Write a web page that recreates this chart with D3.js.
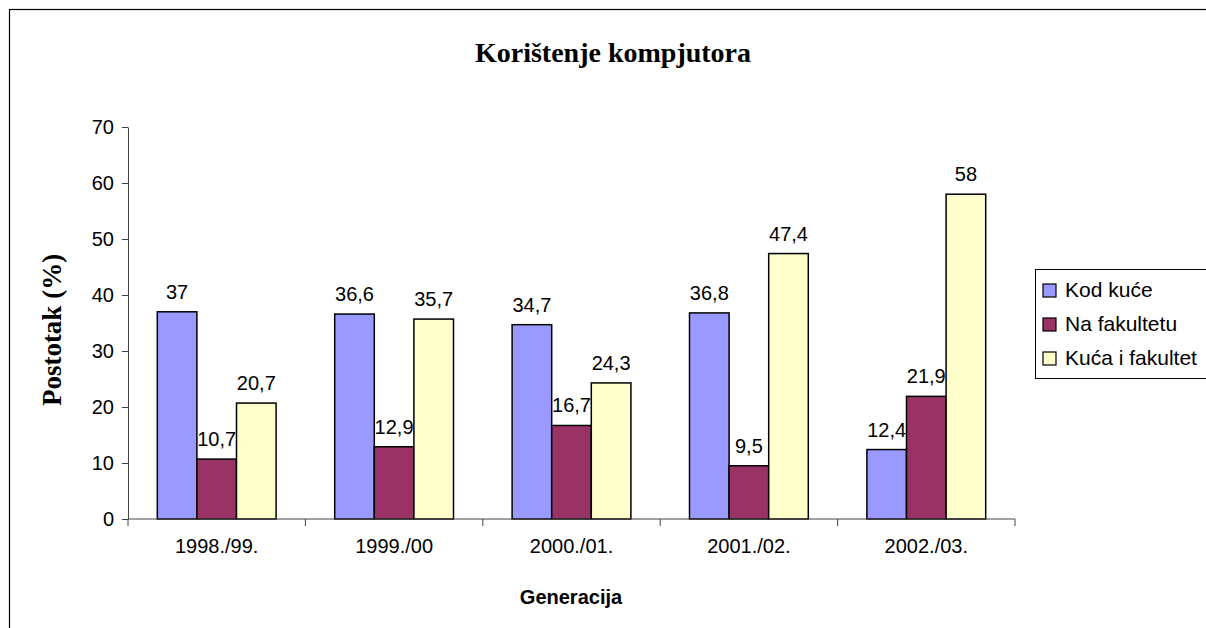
<!DOCTYPE html>
<html>
<head>
<meta charset="utf-8">
<script src="https://cdn.jsdelivr.net/npm/d3@7"></script>
<style>
  body { margin: 0; background: #fff; }
  svg text { font-family: "Liberation Sans", Arial, sans-serif; }
</style>
</head>
<body>
<div id="chart"></div>
<script>
// data
const generations = ['1998./99.', '1999./00', '2000./01.', '2001./02.', '2002./03.'];
const seriesNames = ['Kod kuće', 'Na fakultetu', 'Kuća i fakultet'];
const kodKuce = [37, 36.6, 34.7, 36.8, 12.4];
const naFakultetu = [10.7, 12.9, 16.7, 9.5, 21.9];
const kucaIFakultet = [20.7, 35.7, 24.3, 47.4, 58];
const yTicks = [0, 10, 20, 30, 40, 50, 60, 70];
const colors = ['#9999ff', '#993366', '#ffffcc'];

const W = 1206, H = 628;
const plot = { left: 128, right: 1015, top: 127, bottom: 519 };
const fs = 20;

const svg = d3.select('#chart').append('svg')
  .attr('width', W).attr('height', H);

// outer frame
svg.append('rect')
  .attr('x', 9.5).attr('y', 9.5)
  .attr('width', W + 10).attr('height', H + 10)
  .attr('fill', 'none').attr('stroke', '#000').attr('stroke-width', 1.2);

const x = d3.scaleBand()
  .domain(generations)
  .range([plot.left, plot.right]);

const x1 = d3.scaleBand()
  .domain(seriesNames)
  .range([0, x.bandwidth()])
  .paddingInner(0)
  .paddingOuter(0.74);

const y = d3.scaleLinear()
  .domain([0, 70])
  .range([plot.bottom, plot.top]);

const rows = generations.map((g, i) => ({
  gen: g,
  vals: [kodKuce[i], naFakultetu[i], kucaIFakultet[i]]
}));

// bars
const groups = svg.append('g').attr('class', 'bars')
  .selectAll('g')
  .data(rows)
  .join('g')
  .attr('transform', (d) => `translate(${x(d.gen)},0)`);

groups.selectAll('rect')
  .data((d) => d.vals.map((v, k) => ({ name: seriesNames[k], v, k })))
  .join('rect')
  .attr('x', (d) => x1(d.name))
  .attr('y', (d) => y(d.v))
  .attr('width', x1.bandwidth())
  .attr('height', (d) => y(0) - y(d.v))
  .attr('fill', (d) => colors[d.k])
  .attr('stroke', '#000')
  .attr('stroke-width', 1.5);

// data labels
groups.selectAll('text')
  .data((d) => d.vals.map((v, k) => ({ name: seriesNames[k], v, k })))
  .join('text')
  .attr('x', (d) => x1(d.name) + x1.bandwidth() / 2)
  .attr('y', (d) => y(d.v) - 13)
  .attr('text-anchor', 'middle')
  .attr('font-size', fs)
  .attr('fill', '#000')
  .text((d) => String(d.v).replace('.', ','));

// y axis
const yAxis = svg.append('g')
  .attr('transform', `translate(${plot.left},0)`)
  .call(d3.axisLeft(y).tickValues(yTicks).tickSize(6).tickPadding(8).tickSizeOuter(0));
yAxis.selectAll('text').attr('font-size', fs).attr('fill', '#000')
  .attr('font-family', '"Liberation Sans", Arial, sans-serif');
yAxis.selectAll('line, path').attr('stroke', '#444');

// x axis
const xAxis = svg.append('g')
  .attr('transform', `translate(0,${plot.bottom})`)
  .call(d3.axisBottom(x).tickSize(0).tickPadding(20));
xAxis.selectAll('text').attr('font-size', fs).attr('fill', '#000')
  .attr('font-family', '"Liberation Sans", Arial, sans-serif');
xAxis.select('.domain').attr('stroke', '#444').attr('d', `M${plot.left},0H${plot.right}`);
// category separator ticks
const sepTicks = generations.map((g) => x(g)).concat([plot.right]);
xAxis.selectAll('.sep')
  .data(sepTicks)
  .join('line')
  .attr('class', 'sep')
  .attr('x1', (d) => d).attr('x2', (d) => d)
  .attr('y1', 0).attr('y2', 7)
  .attr('stroke', '#444');

// title
svg.append('text')
  .attr('x', 613).attr('y', 62)
  .attr('text-anchor', 'middle')
  .attr('font-size', 28)
  .attr('font-weight', 'bold')
  .style('font-family', '"Liberation Serif", "Times New Roman", serif')
  .text('Korištenje kompjutora');

// y axis title
svg.append('text')
  .attr('transform', 'translate(61,330) rotate(-90)')
  .attr('text-anchor', 'middle')
  .attr('font-size', 27)
  .attr('font-weight', 'bold')
  .style('font-family', '"Liberation Serif", "Times New Roman", serif')
  .text('Postotak (%)');

// x axis title
svg.append('text')
  .attr('x', 571)
  .attr('y', 604)
  .attr('text-anchor', 'middle')
  .attr('font-size', fs)
  .attr('font-weight', 'bold')
  .text('Generacija');

// legend
const legend = svg.append('g').attr('transform', 'translate(1035,269)');
legend.append('rect')
  .attr('x', 0.5).attr('y', 0.5)
  .attr('width', 180).attr('height', 109)
  .attr('fill', '#fff').attr('stroke', '#000');
const items = legend.selectAll('g.item')
  .data(seriesNames)
  .join('g')
  .attr('class', 'item')
  .attr('transform', (d, i) => `translate(8,${21 + i * 34})`);
items.append('rect')
  .attr('x', 0).attr('y', -6)
  .attr('width', 13).attr('height', 13)
  .attr('fill', (d, i) => colors[i])
  .attr('stroke', '#000').attr('stroke-width', 1.2);
items.append('text')
  .attr('x', 22).attr('y', 7)
  .attr('font-size', 21)
  .text((d) => d);
</script>
</body>
</html>
